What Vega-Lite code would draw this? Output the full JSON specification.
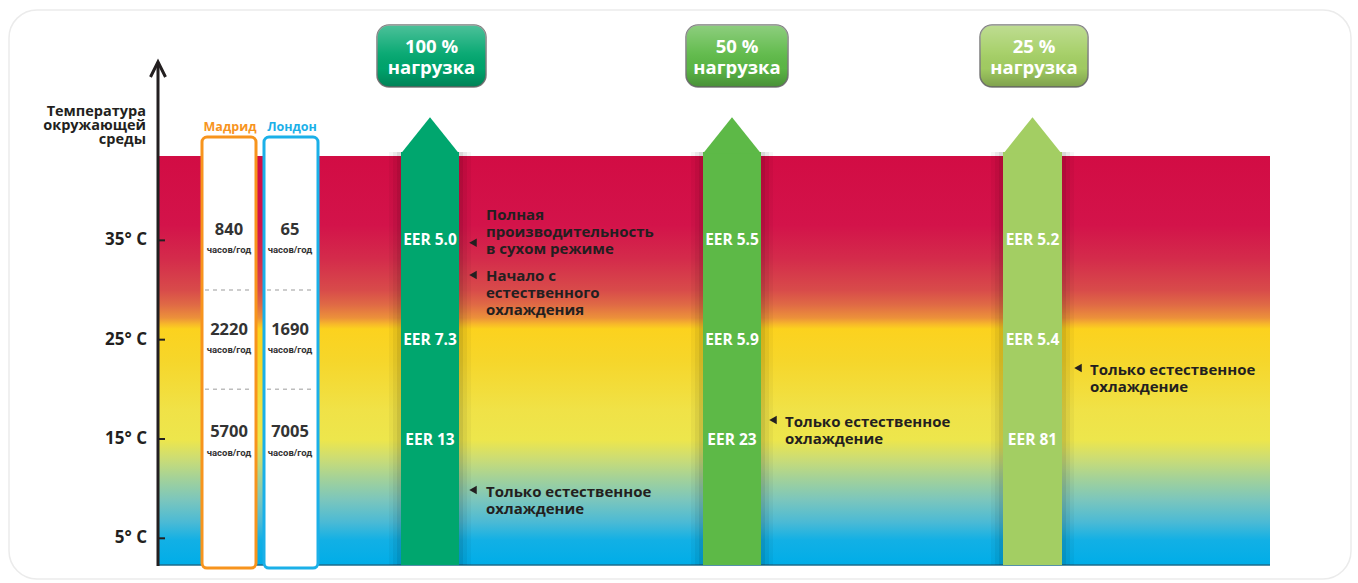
{
  "$schema": "https://vega.github.io/schema/vega-lite/v6.json",
  "width": 1358,
  "height": 583,
  "autosize": {"type": "fit", "contains": "padding"},
  "padding": 0,
  "background": "white",
  "config": {"view": {"stroke": null}, "font": "Open Sans"},
  "datasets": {
    "panel": [{"x": 9, "x2": 1351, "t": 58.2, "t2": 0.9}],
    "band": [{"x": 158, "x2": 1270, "t": 43.5, "t2": 2.3}],
    "axisline": [{"x": 158, "t": 2.2, "t2": 52.9}],
    "arrowtip": [{"x": 158, "t": 52.96}],
    "ticks": [
      {"x": 158, "x2": 165, "t": 5, "label": "5° C"},
      {"x": 158, "x2": 165, "t": 15, "label": "15° C"},
      {"x": 158, "x2": 165, "t": 25, "label": "25° C"},
      {"x": 158, "x2": 165, "t": 35, "label": "35° C"}
    ],
    "cities": [{"city": "Мадрид", "x": 202, "x2": 256, "t": 45.4, "t2": 2.0}, {"city": "Лондон", "x": 264, "x2": 318, "t": 45.4, "t2": 2.0}],
    "seps": [{"x": 205, "x2": 253, "t": 30}, {"x": 267, "x2": 315, "t": 30}, {"x": 205, "x2": 253, "t": 20}, {"x": 267, "x2": 315, "t": 20}],
    "citylabels": [{"city": "Мадрид", "x": 230, "t": 46.44}, {"city": "Лондон", "x": 292, "t": 46.44}],
    "hours": [
      {"x": 229, "t": 36.0, "text": "840"},
      {"x": 229, "t": 25.97, "text": "2220"},
      {"x": 229, "t": 15.73, "text": "5700"},
      {"x": 290, "t": 36.0, "text": "65"},
      {"x": 290, "t": 25.97, "text": "1690"},
      {"x": 290, "t": 15.73, "text": "7005"}
    ],
    "units": [
      {"x": 229, "t": 34.03}, {"x": 229, "t": 23.96}, {"x": 229, "t": 13.59},
      {"x": 290, "t": 34.03}, {"x": 290, "t": 23.96}, {"x": 290, "t": 13.59}
    ],
    "bars": [
      {"load": "100 %", "x": 401, "x2": 459, "t": 43.9, "t2": 2.3},
      {"load": "50 %", "x": 703, "x2": 761, "t": 43.9, "t2": 2.3},
      {"load": "25 %", "x": 1003, "x2": 1062, "t": 43.9, "t2": 2.3}
    ],
    "heads": [
      {"load": "100 %", "x": 430, "t": 43.9},
      {"load": "50 %", "x": 732, "t": 43.9},
      {"load": "25 %", "x": 1032.5, "t": 43.9}
    ],
    "eer": [
      {"x": 430, "t": 35.0, "text": "EER 5.0"},
      {"x": 430, "t": 24.95, "text": "EER 7.3"},
      {"x": 430, "t": 14.85, "text": "EER 13"},
      {"x": 732, "t": 35.0, "text": "EER 5.5"},
      {"x": 732, "t": 24.95, "text": "EER 5.9"},
      {"x": 732, "t": 14.85, "text": "EER 23"},
      {"x": 1032.5, "t": 35.0, "text": "EER 5.2"},
      {"x": 1032.5, "t": 24.95, "text": "EER 5.4"},
      {"x": 1032.5, "t": 14.85, "text": "EER 81"}
    ],
    "badges": [
      {"load": "100 %", "x": 377, "x2": 486, "t": 56.68, "t2": 50.44},
      {"load": "50 %", "x": 686, "x2": 788, "t": 56.68, "t2": 50.44},
      {"load": "25 %", "x": 980, "x2": 1088, "t": 56.68, "t2": 50.44}
    ],
    "badgetext": [
      {"x": 431.5, "t": 54.45, "text": "100 %"},
      {"x": 431.5, "t": 52.4, "text": "нагрузка"},
      {"x": 737, "t": 54.45, "text": "50 %"},
      {"x": 737, "t": 52.4, "text": "нагрузка"},
      {"x": 1034, "t": 54.45, "text": "25 %"},
      {"x": 1034, "t": 52.4, "text": "нагрузка"}
    ],
    "pointers": [
      {"x": 473, "t": 34.76}, {"x": 473, "t": 31.51}, {"x": 473, "t": 9.86},
      {"x": 773, "t": 16.91}, {"x": 1078, "t": 22.15}
    ],
    "notes": [
      {"x": 486, "t": 37.55, "text": "Полная\nпроизводительность\nв сухом режиме"},
      {"x": 486, "t": 31.41, "text": "Начало с\nестественного\nохлаждения"},
      {"x": 486, "t": 9.69, "text": "Только естественное\nохлаждение"},
      {"x": 785, "t": 16.74, "text": "Только естественное\nохлаждение"},
      {"x": 1090, "t": 21.95, "text": "Только естественное\nохлаждение"}
    ],
    "ytitle": [{"x": 146, "t": 47.9, "text": "Температура\nокружающей\nсреды"}]
  },
  "encoding": {
    "x": {"field": "x", "type": "quantitative", "scale": {"domain": [0, 1358], "nice": false, "zero": false}, "axis": null},
    "y": {"field": "t", "type": "quantitative", "scale": {"domain": [0.5, 59.2], "nice": false, "zero": false}, "axis": null}
  },
  "layer": [
    {
      "data": {"name": "panel"},
      "mark": {"type": "rect", "fill": "white", "stroke": "#ebebeb", "strokeWidth": 1.5, "cornerRadius": 28},
      "encoding": {"x2": {"field": "x2"}, "y2": {"field": "t2"}}
    },
    {
      "data": {"name": "band"},
      "mark": {
        "type": "rect",
        "fill": {
          "gradient": "linear", "x1": 0, "y1": 0, "x2": 0, "y2": 1,
          "stops": [
            {"offset": 0, "color": "#D20C44"},
            {"offset": 0.169, "color": "#D3134A"},
            {"offset": 0.254, "color": "#D42C4B"},
            {"offset": 0.328, "color": "#D84B4A"},
            {"offset": 0.364, "color": "#E06A45"},
            {"offset": 0.396, "color": "#EC913A"},
            {"offset": 0.411, "color": "#F7B82A"},
            {"offset": 0.423, "color": "#FCD21E"},
            {"offset": 0.499, "color": "#F6D62A"},
            {"offset": 0.621, "color": "#F0E247"},
            {"offset": 0.694, "color": "#EDE64C"},
            {"offset": 0.738, "color": "#CDDD73"},
            {"offset": 0.787, "color": "#A4D298"},
            {"offset": 0.841, "color": "#7BC6BD"},
            {"offset": 0.895, "color": "#4BBAD5"},
            {"offset": 0.939, "color": "#12B0E5"},
            {"offset": 1, "color": "#00ADE8"}
          ]
        }
      },
      "encoding": {"x2": {"field": "x2"}, "y2": {"field": "t2"}}
    },
    {
      "data": {"name": "band"},
      "mark": {"type": "rule", "color": "#1c6d8c", "strokeWidth": 1.5},
      "encoding": {"x2": {"field": "x2"}, "y": {"field": "t2", "type": "quantitative"}}
    },
    {
      "data": {"name": "cities"},
      "mark": {"type": "rect", "fill": "white", "strokeWidth": 3, "cornerRadius": 5},
      "encoding": {
        "x2": {"field": "x2"}, "y2": {"field": "t2"},
        "stroke": {"field": "city", "type": "nominal", "scale": {"domain": ["Мадрид", "Лондон"], "range": ["#F7941D", "#1BB0E8"]}, "legend": null}
      }
    },
    {
      "data": {"name": "seps"},
      "mark": {"type": "rule", "color": "#bdbdbd", "strokeWidth": 1.5, "strokeDash": [4, 4]},
      "encoding": {"x2": {"field": "x2"}}
    },
    {
      "data": {"name": "citylabels"},
      "mark": {"type": "text", "fontSize": 12.5, "fontWeight": "bold", "baseline": "middle", "align": "center"},
      "encoding": {
        "text": {"field": "city"},
        "color": {"field": "city", "type": "nominal", "scale": {"domain": ["Мадрид", "Лондон", "100 %", "50 %", "25 %"], "range": ["#F7941D", "#1BB0E8", "#00A66E", "#5DB947", "#A3CE63"]}, "legend": null}
      }
    },
    {
      "data": {"name": "hours"},
      "mark": {"type": "text", "fontSize": 16.5, "fontWeight": "bold", "color": "#333333", "baseline": "middle", "align": "center"},
      "encoding": {"text": {"field": "text"}}
    },
    {
      "data": {"name": "units"},
      "mark": {"type": "text", "text": "часов/год", "font": "Roboto", "fontSize": 9.5, "fontWeight": "bold", "color": "#333333", "baseline": "middle", "align": "center"},
      "encoding": {}
    },
    {
      "data": {"name": "bars"},
      "mark": {"type": "rect", "fill": "#000000", "opacity": 0.035, "xOffset": -12, "x2Offset": 12},
      "encoding": {"x2": {"field": "x2"}, "y2": {"field": "t2"}}
    },
    {
      "data": {"name": "bars"},
      "mark": {"type": "rect", "fill": "#000000", "opacity": 0.05, "xOffset": -8, "x2Offset": 8},
      "encoding": {"x2": {"field": "x2"}, "y2": {"field": "t2"}}
    },
    {
      "data": {"name": "bars"},
      "mark": {"type": "rect", "fill": "#000000", "opacity": 0.07, "xOffset": -4, "x2Offset": 4},
      "encoding": {"x2": {"field": "x2"}, "y2": {"field": "t2"}}
    },
    {
      "data": {"name": "bars"},
      "mark": {"type": "rect"},
      "encoding": {
        "x2": {"field": "x2"}, "y2": {"field": "t2"},
        "color": {"field": "load", "type": "nominal", "legend": null}
      }
    },
    {
      "data": {"name": "heads"},
      "mark": {"type": "point", "filled": true, "opacity": 1, "shape": "M -1 0.05 L 0 -1.2 L 1 0.05 Z", "size": 3364, "strokeWidth": 0},
      "encoding": {"color": {"field": "load", "type": "nominal", "legend": null}}
    },
    {
      "data": {"name": "eer"},
      "mark": {"type": "text", "fontSize": 15.5, "fontWeight": "bold", "color": "white", "baseline": "middle", "align": "center"},
      "encoding": {"text": {"field": "text"}}
    },
    {
      "data": {"name": "badges"},
      "mark": {"type": "rect", "cornerRadius": 12, "stroke": "#7d7d7d", "strokeWidth": 1.5},
      "encoding": {
        "x2": {"field": "x2"}, "y2": {"field": "t2"},
        "color": {"field": "load", "type": "nominal", "legend": null}
      }
    },
    {
      "data": {"name": "badges"},
      "mark": {
        "type": "rect", "cornerRadius": 12,
        "fill": {
          "gradient": "linear", "x1": 0, "y1": 0, "x2": 0, "y2": 1,
          "stops": [
            {"offset": 0, "color": "rgba(255,255,255,0.30)"},
            {"offset": 0.45, "color": "rgba(255,255,255,0.05)"},
            {"offset": 0.7, "color": "rgba(0,0,0,0.02)"},
            {"offset": 1, "color": "rgba(0,0,0,0.22)"}
          ]
        }
      },
      "encoding": {"x2": {"field": "x2"}, "y2": {"field": "t2"}}
    },
    {
      "data": {"name": "badgetext"},
      "mark": {"type": "text", "fontSize": 18.5, "fontWeight": "bold", "color": "white", "baseline": "middle", "align": "center"},
      "encoding": {"text": {"field": "text"}}
    },
    {
      "data": {"name": "pointers"},
      "mark": {"type": "point", "shape": "triangle-left", "filled": true, "opacity": 1, "size": 75, "color": "#231F20"},
      "encoding": {}
    },
    {
      "data": {"name": "notes"},
      "mark": {"type": "text", "fontSize": 15, "fontWeight": "bold", "color": "#231F20", "baseline": "middle", "align": "left", "lineBreak": "\n", "lineHeight": 16.8},
      "encoding": {"text": {"field": "text"}}
    },
    {
      "data": {"name": "ytitle"},
      "mark": {"type": "text", "fontSize": 14.5, "fontWeight": "bold", "color": "#231F20", "baseline": "middle", "align": "right", "lineBreak": "\n", "lineHeight": 13.8},
      "encoding": {"text": {"field": "text"}}
    },
    {
      "data": {"name": "ticks"},
      "mark": {"type": "text", "fontSize": 17, "fontWeight": "bold", "color": "#231F20", "baseline": "middle", "align": "right", "dx": -11},
      "encoding": {"text": {"field": "label"}}
    },
    {
      "data": {"name": "axisline"},
      "mark": {"type": "rule", "color": "#231F20", "strokeWidth": 3},
      "encoding": {"y2": {"field": "t2"}}
    },
    {
      "data": {"name": "arrowtip"},
      "mark": {"type": "point", "shape": "M -0.5 1 L 0 0 L 0.5 1", "size": 900, "filled": false, "opacity": 1, "color": "#231F20", "strokeWidth": 3},
      "encoding": {}
    },
    {
      "data": {"name": "ticks"},
      "mark": {"type": "rule", "color": "#231F20", "strokeWidth": 2},
      "encoding": {"x2": {"field": "x2"}}
    }
  ]
}
